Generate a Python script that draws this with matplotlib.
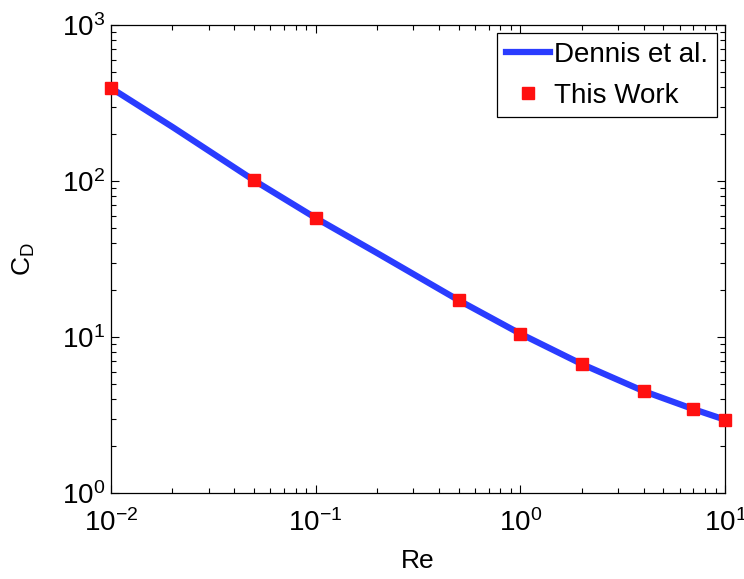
import matplotlib
matplotlib.use('Agg')
import matplotlib.pyplot as plt

# Dennis et al. reference curve
re_dennis = [0.01, 0.02, 0.05, 0.1, 0.2, 0.5, 1, 2, 4, 7, 10]
cd_dennis = [395, 222, 101, 58, 34.5, 17.2, 10.5, 6.7, 4.5, 3.45, 2.95]

# This Work points
re_work = [0.01, 0.05, 0.1, 0.5, 1, 2, 4, 7, 10]
cd_work = [394, 101, 58, 17.2, 10.5, 6.75, 4.5, 3.45, 2.94]

plt.rcParams['font.family'] = ['Liberation Sans', 'DejaVu Sans']
plt.rcParams['mathtext.fontset'] = 'custom'
plt.rcParams['mathtext.rm'] = 'Liberation Sans'
plt.rcParams['mathtext.default'] = 'regular'
plt.rcParams['axes.unicode_minus'] = False

fig = plt.figure(figsize=(7.44, 5.79), dpi=100)
ax = fig.add_axes([0.149, 0.1485, 0.8255, 0.8083])

ax.plot(re_dennis, cd_dennis, color='#2a3cff', linewidth=4.5, label='Dennis et al.', zorder=2)
ax.plot(re_work, cd_work, linestyle='none', marker='s', markersize=9,
        color='#ff1010', label='This Work', zorder=3, clip_on=False)

ax.set_xscale('log')
ax.set_yscale('log')
ax.set_xlim(1e-2, 1e1)
ax.set_ylim(1e0, 1e3)

ax.tick_params(which='both', direction='in', top=True, right=True, labelsize=20)
ax.tick_params(which='major', length=6, width=0.8)
ax.tick_params(which='minor', length=3.5, width=0.8)
ax.tick_params(axis='x', pad=12)
ax.tick_params(axis='y', pad=4)
for s in ax.spines.values():
    s.set_linewidth(0.9)

ax.set_xlabel('Re', fontsize=19, labelpad=8)
ax.set_ylabel(r'C$_\mathregular{D}$', fontsize=19, labelpad=18)

leg = ax.legend(loc='upper right', fontsize=20, frameon=True, fancybox=False,
                edgecolor='black', framealpha=1, handlelength=1.6,
                borderaxespad=0.3, borderpad=0.3, labelspacing=0.55,
                handletextpad=0.15, numpoints=1)
leg.get_frame().set_linewidth(0.9)

plt.savefig('out.png', dpi=100)
